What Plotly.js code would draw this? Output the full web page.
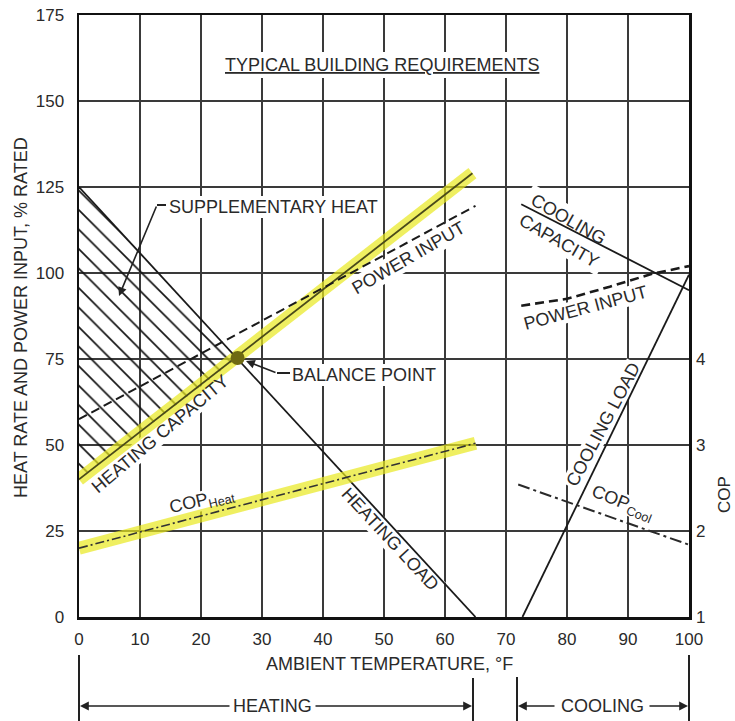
<!DOCTYPE html>
<html><head><meta charset="utf-8">
<script src="https://cdn.plot.ly/plotly-3.0.1.min.js"></script>
<style>html,body{margin:0;padding:0;background:#fff}#chart{width:735px;height:721px}</style>
</head><body><div id="chart"></div>
<script>
// ---- data ----
const xTicks = [0, 10, 20, 30, 40, 50, 60, 70, 80, 90, 100];
const yTicks = [0, 25, 50, 75, 100, 125, 150, 175];
const copTicks = [1, 2, 3, 4];

const heatingLoadX = [0, 65];
const heatingLoadY = [125, 0];
const heatingCapX = [0, 64.5];
const heatingCapY = [40, 129];
const heatPowerX = [0, 65];
const heatPowerY = [57.5, 119.5];
const copHeatX = [0, 65];
const copHeatY = [1.8, 3.02];

const coolingLoadX = [72.7, 100];
const coolingLoadY = [0, 99.5];
const coolingCapX = [72.5, 100];
const coolingCapY = [120, 95];
const coolPowerX = [72.5, 80, 87, 94, 100];
const coolPowerY = [90.5, 92.5, 96, 99.8, 102];
const copCoolX = [72, 100];
const copCoolY = [2.54, 1.84];

const balanceX = [26];
const balanceY = [75.3];

// ---- helpers (pixel placement of decorations) ----
const L = 79, R = 689, T = 15, B = 617;
function D(px, py) { return [(px - L) * 100 / (R - L), (B - py) * 175 / (B - T)]; }
function PX(px) { return (px - L) / (R - L); }
function PY(py) { return (B - py) / (B - T); }
function gap(cx, cy, hw, hh, ang) {
  const a = ang * Math.PI / 180, c = Math.cos(a), s = Math.sin(a);
  const pts = [[-hw, -hh], [hw, -hh], [hw, hh], [-hw, hh]].map(([u, v]) => D(cx + u * c - v * s, cy + u * s + v * c));
  return {type: 'path', xref: 'x', yref: 'y', layer: 'between',
    path: 'M' + pts.map(p => p[0].toFixed(3) + ',' + p[1].toFixed(3)).join('L') + 'Z',
    fillcolor: '#ffffff', line: {width: 0}};
}
function label(text, cx, cy, ang, extra) {
  const p = D(cx, cy);
  return Object.assign({x: p[0], y: p[1], xref: 'x', yref: 'y', text: text, showarrow: false,
    textangle: ang, xanchor: 'center', yanchor: 'middle', font: {size: 18, color: '#2a2a2a'}}, extra || {});
}
function ptext(text, cx, cy, ang, size) {
  return {x: PX(cx), y: PY(cy), xref: 'paper', yref: 'paper', text: text, showarrow: false, textangle: ang || 0,
    xanchor: 'center', yanchor: 'middle', font: {size: size || 18, color: '#2a2a2a'}};
}
function arrow(hx, hy, tx, ty) {
  return {x: PX(hx), y: PY(hy), xref: 'paper', yref: 'paper', ax: tx - hx, ay: ty - hy,
    xanchor: 'center', yanchor: 'middle',
    text: '', showarrow: true, arrowhead: 2, arrowsize: 1.1, arrowwidth: 1.6, arrowcolor: '#222', standoff: 0};
}
function seg(x0, y0, x1, y1) {
  return {type: 'line', xref: 'paper', yref: 'paper', x0: PX(x0), y0: PY(y0), x1: PX(x1), y1: PY(y1),
    line: {color: '#222', width: 2}};
}

const HL = 'rgba(232,232,30,0.7)';
const traces = [
  {x: [heatingLoadX[0], balanceX[0], heatingCapX[0]], y: [heatingLoadY[0], balanceY[0], heatingCapY[0]],
   mode: 'lines', fill: 'toself', line: {width: 0, color: 'rgba(0,0,0,0)'}, fillcolor: 'rgba(255,255,255,0)',
   fillpattern: {shape: '\\', size: 13.8, solidity: 0.12, fgcolor: '#111', bgcolor: 'rgba(255,255,255,0)'}, hoverinfo: 'skip'},
  {x: heatingCapX, y: heatingCapY, mode: 'lines', line: {color: HL, width: 13}},
  {x: copHeatX, y: copHeatY, yaxis: 'y2', mode: 'lines', line: {color: HL, width: 13}},
  {x: heatingLoadX, y: heatingLoadY, mode: 'lines', line: {color: '#1a1a1a', width: 1.8}},
  {x: heatingCapX, y: heatingCapY, mode: 'lines', line: {color: '#4a4a1a', width: 1.8}},
  {x: heatPowerX, y: heatPowerY, mode: 'lines', line: {color: '#1a1a1a', width: 2, dash: '9px,5px'}},
  {x: copHeatX, y: copHeatY, yaxis: 'y2', mode: 'lines', line: {color: '#333', width: 1.6, dash: '9px,3px,2px,3px'}},
  {x: coolingLoadX, y: coolingLoadY, mode: 'lines', line: {color: '#1a1a1a', width: 1.8}},
  {x: coolingCapX, y: coolingCapY, mode: 'lines', line: {color: '#1a1a1a', width: 1.8}},
  {x: coolPowerX, y: coolPowerY, mode: 'lines', line: {color: '#1a1a1a', width: 2.6, dash: '9px,5px'}},
  {x: copCoolX, y: copCoolY, yaxis: 'y2', mode: 'lines', line: {color: '#2a2a2a', width: 2, dash: '12px,4px,3px,4px'}},
  {x: balanceX, y: balanceY, mode: 'markers', marker: {size: 14, color: '#6e6a12'}}
];

const axisCommon = {showgrid: true, gridcolor: '#3a3a3a', gridwidth: 1.5, showline: true, linecolor: '#111',
  linewidth: 2.5, mirror: true, ticks: '', zeroline: false, fixedrange: true,
  tickfont: {size: 17, color: '#2a2a2a'}};

const layout = {
  width: 735, height: 721,
  margin: {l: L, r: 735 - R, t: T, b: 721 - B},
  paper_bgcolor: '#fff', plot_bgcolor: '#fff', showlegend: false,
  font: {family: 'Liberation Sans, Arial, sans-serif', size: 17, color: '#2a2a2a'},
  xaxis: Object.assign({}, axisCommon, {range: [0, 100], tickvals: xTicks, ticklabelstandoff: 5}),
  yaxis: Object.assign({}, axisCommon, {range: [0, 175], tickvals: yTicks, ticklabelstandoff: 9}),
  yaxis2: {overlaying: 'y', side: 'right', range: [1, 8], tickvals: copTicks, showgrid: false, zeroline: false,
    showline: false, ticks: '', fixedrange: true, ticklabelstandoff: 6, tickfont: {size: 17, color: '#2a2a2a'}},
  shapes: [
    gap(382, 65, 165, 13, 0),
    gap(273, 207, 110, 11, 0),
    gap(408, 258, 66, 11, -30),
    gap(364, 375, 76, 11, 0),
    gap(160, 434, 89, 10, -40),
    gap(202, 501, 35, 10, -13),
    gap(390, 539, 70, 11, 47),
    gap(565, 230, 50, 24, 30),
    gap(585, 308, 66, 10, -15),
    gap(603, 425, 70, 10, -62),
    gap(622, 503, 36, 10, 22),
    // leader stubs
    seg(157, 205, 166, 205),
    seg(277, 373, 290, 373),
    // heating / cooling bracket
    seg(L, 655, L, 721),
    seg(473, 678, 473, 721),
    seg(517, 677, 517, 721),
    seg(R, 655, R, 721)
  ],
  annotations: [
    label('<u>TYPICAL BUILDING REQUIREMENTS</u>', 382, 65, 0),
    label('SUPPLEMENTARY HEAT', 273, 207, 0),
    label('POWER INPUT', 408, 258, -30),
    label('BALANCE POINT', 364, 375, 0),
    label('HEATING CAPACITY', 160, 434, -40),
    label('COP<sub>Heat</sub>', 202, 501, -13),
    label('HEATING LOAD', 390, 539, 47),
    label('COOLING<br>CAPACITY', 565, 230, 30, {align: 'left'}),
    label('POWER INPUT', 585, 308, -15),
    label('COOLING LOAD', 603, 425, -62),
    label('COP<sub>Cool</sub>', 622, 503, 22),
    arrow(119, 296, 157, 205),
    arrow(246, 361, 277, 373),
    // axis titles
    ptext('HEAT RATE AND POWER INPUT, % RATED', 21, 318, -90),
    ptext('AMBIENT TEMPERATURE, °F', 389, 664, 0),
    ptext('COP', 724, 495, -90, 17),
    // bracket labels and arrows
    ptext('HEATING', 272, 706, 0),
    ptext('COOLING', 602, 706, 0),
    arrow(L + 1, 706, 231, 706),
    arrow(472, 706, 314, 706),
    arrow(518, 706, 556, 706),
    arrow(R - 1, 706, 648, 706)
  ]
};

Plotly.newPlot('chart', traces, layout, {staticPlot: true, displayModeBar: false});
</script>
</body></html>
